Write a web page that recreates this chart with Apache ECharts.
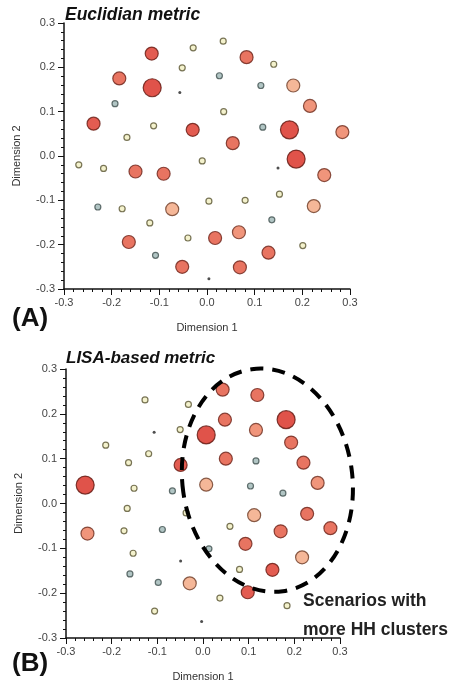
<!DOCTYPE html>
<html>
<head>
<meta charset="utf-8">
<script src="https://cdn.jsdelivr.net/npm/echarts@6/dist/echarts.min.js"></script>
<style>
  html, body { margin: 0; padding: 0; background: #fff; }
  #chart { width: 451px; height: 683px; }
</style>
</head>
<body>
<div id="chart"></div>
<script>
(function () {
    'use strict';

    // ── Data ────────────────────────────────────────
    // [dimension 1, dimension 2, level]  level: 0 tiny dot .. 7 large red
    var euclidPoints = [
        [-0.116, 0.231, 6], [-0.029, 0.244, 2], [0.034, 0.259, 2], [0.083, 0.223, 5],
        [0.140, 0.207, 2], [-0.052, 0.199, 2], [0.026, 0.181, 1], [-0.184, 0.175, 5],
        [-0.115, 0.154, 7], [-0.057, 0.143, 0], [0.113, 0.159, 1], [0.181, 0.159, 3],
        [-0.193, 0.118, 1], [0.216, 0.113, 4], [0.035, 0.100, 2], [-0.238, 0.073, 6],
        [-0.112, 0.068, 2], [-0.030, 0.059, 6], [0.117, 0.065, 1], [0.173, 0.059, 7],
        [0.284, 0.054, 4], [-0.168, 0.042, 2], [0.054, 0.029, 5], [0.187, -0.007, 7],
        [-0.269, -0.020, 2], [-0.217, -0.028, 2], [-0.010, -0.011, 2], [0.149, -0.027, 0],
        [-0.150, -0.035, 5], [-0.091, -0.040, 5], [0.246, -0.043, 4], [0.152, -0.086, 2],
        [-0.229, -0.115, 1], [-0.178, -0.119, 2], [-0.073, -0.120, 3], [0.004, -0.102, 2],
        [0.080, -0.100, 2], [0.224, -0.113, 3], [-0.120, -0.151, 2], [0.136, -0.144, 1],
        [-0.164, -0.194, 5], [-0.040, -0.185, 2], [0.017, -0.185, 5], [0.067, -0.172, 4],
        [0.201, -0.202, 2], [-0.108, -0.224, 1], [0.129, -0.218, 5], [-0.052, -0.250, 5],
        [0.069, -0.251, 5], [0.004, -0.277, 0]
    ];

    var lisaPoints = [
        [0.043, 0.254, 5], [0.119, 0.242, 5], [-0.127, 0.231, 2], [-0.032, 0.221, 2],
        [0.048, 0.187, 5], [0.182, 0.187, 7], [0.116, 0.164, 4], [-0.107, 0.159, 0],
        [-0.050, 0.165, 2], [0.007, 0.153, 7], [0.193, 0.136, 5], [-0.213, 0.130, 2],
        [-0.163, 0.091, 2], [-0.119, 0.111, 2], [-0.049, 0.086, 6], [0.050, 0.100, 5],
        [0.116, 0.095, 1], [0.220, 0.091, 5], [-0.258, 0.041, 7], [-0.151, 0.034, 2],
        [-0.067, 0.028, 1], [0.007, 0.042, 3], [0.104, 0.039, 1], [0.251, 0.046, 4],
        [0.175, 0.023, 1], [-0.166, -0.011, 2], [-0.037, -0.021, 2], [0.112, -0.026, 3],
        [0.228, -0.023, 5], [-0.253, -0.067, 4], [-0.173, -0.061, 2], [-0.089, -0.058, 1],
        [0.059, -0.051, 2], [0.170, -0.062, 5], [0.279, -0.055, 5], [-0.153, -0.111, 2],
        [0.013, -0.101, 1], [0.093, -0.090, 5], [0.217, -0.120, 3], [-0.049, -0.128, 0],
        [0.080, -0.147, 2], [0.152, -0.148, 6], [-0.160, -0.157, 1], [-0.098, -0.176, 1],
        [-0.029, -0.178, 3], [0.098, -0.198, 6], [0.037, -0.211, 2], [-0.106, -0.240, 2],
        [0.184, -0.228, 2], [-0.003, -0.263, 0]
    ];

    var axisMin = -0.3;
    var axisMax = 0.3;
    var axisStep = 0.1;

    // HH-cluster ellipse, in LISA data units: centre, radii
    var ellipseCenter = [0.141, 0.052];
    var ellipseRadii  = [0.186, 0.25];

    // ── Styles per level ────────────────────────────
    var SIZE   = [3, 6, 6, 13, 13, 13, 13, 18];
    var FILL   = ['#222', '#9db6b5', '#f1efc0', '#f3a57e', '#ec7a5a', '#e2513a', '#dc3326', '#d8281d'];
    var BORDER = ['#222', '#3f4f4e', '#57532f', '#6b3a24', '#6b2a1c', '#6a2016', '#65180f', '#5e140c'];

    function buildData(points) {
        return points.map(function (p) {
            var lv = p[2];
            return {
                value: [p[0], p[1]],
                symbolSize: SIZE[lv],
                itemStyle: {
                    color: FILL[lv],
                    borderColor: BORDER[lv],
                    borderWidth: lv === 0 ? 0 : 1.2
                }
            };
        });
    }

    var FONT = '"Liberation Sans", Arial, sans-serif';

    function tickFmt(v) {
        if (Math.abs(v) < 1e-9) return '0.0';
        return v.toFixed(1);
    }

    function makeAxis(idx, isX) {
        return {
            type: 'value',
            gridIndex: idx,
            min: axisMin,
            max: axisMax,
            interval: axisStep,
            name: isX ? 'Dimension 1' : 'Dimension 2',
            nameLocation: 'middle',
            nameGap: isX ? 33 : 42,
            nameTextStyle: { fontFamily: FONT, fontSize: 11, color: '#333' },
            axisLine: { show: true, onZero: false, lineStyle: { color: '#111', width: 1.5 } },
            axisTick: { show: true, length: 6, lineStyle: { color: '#111', width: 1 } },
            minorTick: { show: true, splitNumber: 5, length: 3, lineStyle: { color: '#111', width: 1 } },
            axisLabel: {
                fontFamily: FONT, fontSize: 11, color: '#444',
                margin: isX ? 8 : 9,
                formatter: tickFmt
            },
            splitLine: { show: false },
            minorSplitLine: { show: false }
        };
    }

    var chart = echarts.init(document.getElementById('chart'), null, { renderer: 'canvas' });

    var option = {
        backgroundColor: '#fff',
        animation: false,
        grid: [
            { left: 64, top: 23, width: 286, height: 266 },
            { left: 66, top: 369, width: 274, height: 271 }
        ],
        xAxis: [makeAxis(0, true), makeAxis(1, true)],
        yAxis: [makeAxis(0, false), makeAxis(1, false)],
        series: [
            { type: 'scatter', xAxisIndex: 0, yAxisIndex: 0, data: buildData(euclidPoints), z: 3 },
            { type: 'scatter', xAxisIndex: 1, yAxisIndex: 1, data: buildData(lisaPoints), z: 3 }
        ],
        graphic: [
            { type: 'text', left: 65, top: 6, style: { text: 'Euclidian metric', font: 'italic bold 17.5px ' + FONT, fill: '#111' } },
            { type: 'text', left: 66, top: 350, style: { text: 'LISA-based metric', font: 'italic bold 17px ' + FONT, fill: '#111' } },
            { type: 'text', left: 12, top: 306, style: { text: '(A)', font: 'bold 26px ' + FONT, fill: '#111' } },
            { type: 'text', left: 12, top: 651, style: { text: '(B)', font: 'bold 26px ' + FONT, fill: '#111' } },
            { type: 'text', left: 303, top: 592, style: { text: 'Scenarios with', font: 'bold 17.5px ' + FONT, fill: '#222' } },
            { type: 'text', left: 303, top: 621, style: { text: 'more HH clusters', font: 'bold 17.5px ' + FONT, fill: '#222' } }
        ]
    };

    chart.setOption(option);

    // ── Dashed ellipse around the HH-cluster scenarios ──
    var c  = chart.convertToPixel({ gridIndex: 1 }, ellipseCenter);
    var o  = chart.convertToPixel({ gridIndex: 1 }, [0, 0]);
    var ex = chart.convertToPixel({ gridIndex: 1 }, [ellipseRadii[0], 0]);
    var ey = chart.convertToPixel({ gridIndex: 1 }, [0, ellipseRadii[1]]);
    var rx = Math.abs(ex[0] - o[0]);
    var ry = Math.abs(o[1] - ey[1]);

    chart.setOption({
        graphic: option.graphic.concat([{
            type: 'ellipse',
            x: c[0],
            y: c[1],
            rotation: 0.14,
            shape: { cx: 0, cy: 0, rx: rx, ry: ry },
            style: { fill: 'none', stroke: '#000', lineWidth: 4, lineDash: [13, 9] },
            z: 10
        }])
    });
})();
</script>
</body>
</html>
